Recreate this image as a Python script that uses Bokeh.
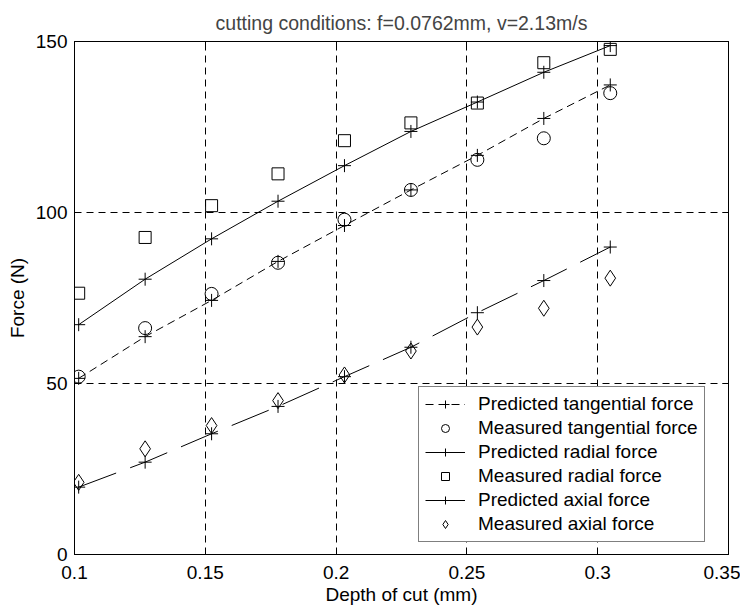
from bokeh.plotting import figure
from bokeh.models import (Range1d, LinearAxis, FixedTicker, NumeralTickFormatter,
                          CustomJSTickFormatter, Legend, LegendItem, Title)
from bokeh.embed import file_html
from bokeh.resources import INLINE

# ---- data ----
depth = [0.1016, 0.127, 0.1524, 0.1778, 0.2032, 0.2286, 0.254, 0.2794, 0.3048]
pred_tangential = [51.5, 63.7, 74.3, 85.7, 96.2, 106.6, 116.7, 127.5, 137.3]
meas_tangential = [52.0, 66.2, 76.2, 85.3, 97.9, 106.6, 115.4, 121.7, 134.9]
pred_radial = [67.2, 80.5, 92.3, 103.3, 113.7, 123.7, 132.3, 141.0, 148.8]
meas_radial = [76.4, 92.7, 102.0, 111.3, 121.0, 126.2, 132.0, 143.8, 147.7]
pred_axial = [19.7, 27.0, 35.3, 43.3, 52.0, 60.6, 70.7, 80.1, 89.9]
meas_axial = [21.1, 30.9, 37.7, 45.0, 52.5, 59.5, 66.5, 72.0, 80.8]

x_ticks = [0.1, 0.15, 0.2, 0.25, 0.3, 0.35]
y_ticks = [0, 50, 100, 150]
x_grid = [0.15, 0.2, 0.25, 0.3]
y_grid = [50, 100]

title_text = "cutting conditions: f=0.0762mm, v=2.13m/s"
x_label = "Depth of cut (mm)"
y_label = "Force (N)"

FONT = "Liberation Sans"
FS = "19px"

p = figure(frame_width=654, frame_height=513,
           x_range=Range1d(0.1, 0.35), y_range=Range1d(0, 150),
           output_backend="svg", toolbar_location=None, title=None,
           min_border_left=74, min_border_right=12,
           min_border_top=41, min_border_bottom=56,
           x_axis_label=x_label, y_axis_label=y_label,
           background_fill_color="white", border_fill_color="white",
           outline_line_color="black")

def style_axis(ax, show_labels=True):
    ax.major_tick_in = 6
    ax.major_tick_out = 0
    ax.minor_tick_in = 0
    ax.minor_tick_out = 0
    ax.axis_line_color = "black"
    ax.major_tick_line_color = "black"
    ax.major_label_text_font = FONT
    ax.major_label_text_font_size = FS
    ax.major_label_text_color = "black"
    ax.axis_label_text_font = FONT
    ax.axis_label_text_font_size = FS
    ax.axis_label_text_font_style = "normal"
    ax.axis_label_text_color = "black"
    if not show_labels:
        ax.formatter = CustomJSTickFormatter(code="return ''")
        ax.major_label_standoff = 0

xa = p.xaxis[0]
xa.ticker = FixedTicker(ticks=x_ticks)
xa.formatter = NumeralTickFormatter(format="0.[00]")
style_axis(xa)
xa.major_label_standoff = 11
xa.axis_label_standoff = 2

ya = p.yaxis[0]
ya.ticker = FixedTicker(ticks=y_ticks)
style_axis(ya)
ya.major_label_standoff = 7
ya.axis_label_standoff = 5

top = LinearAxis(ticker=FixedTicker(ticks=x_ticks))
style_axis(top, False)
p.add_layout(top, "above")

right = LinearAxis(ticker=FixedTicker(ticks=y_ticks))
style_axis(right, False)
p.add_layout(right, "right")

title = Title(text=title_text, align="center", text_font=FONT,
              text_font_size="19.5px", text_font_style="normal", standoff=16)
p.add_layout(title, "above")

p.xgrid.ticker = FixedTicker(ticks=x_grid)
p.ygrid.ticker = FixedTicker(ticks=y_grid)
for g in (p.xgrid[0], p.ygrid[0]):
    g.grid_line_color = "black"
    g.grid_line_dash = "7 5"
    g.grid_line_width = 1

K = "black"
l_tan = p.line(depth, pred_tangential, line_color=K, line_width=1, line_dash="8 5")
c_tan = p.scatter(depth, pred_tangential, marker="cross", size=13, line_color=K)
m_tan = p.scatter(depth, meas_tangential, marker="circle", size=13, line_color=K,
                  fill_color=None)
l_rad = p.line(depth, pred_radial, line_color=K, line_width=1)
c_rad = p.scatter(depth, pred_radial, marker="cross", size=13, line_color=K)
m_rad = p.scatter(depth, meas_radial, marker="square", size=12, line_color=K,
                  fill_color=None)
l_ax = p.line(depth, pred_axial, line_color=K, line_width=1, line_dash="40 15")
c_ax = p.scatter(depth, pred_axial, marker="cross", size=13, line_color=K)
m_ax = p.scatter(depth, meas_axial, marker="diamond", size=16, line_color=K,
                 fill_color=None)

legend = Legend(items=[
    LegendItem(label="Predicted tangential force", renderers=[l_tan, c_tan]),
    LegendItem(label="Measured tangential force", renderers=[m_tan]),
    LegendItem(label="Predicted radial force", renderers=[l_rad, c_rad]),
    LegendItem(label="Measured radial force", renderers=[m_rad]),
    LegendItem(label="Predicted axial force", renderers=[l_ax, c_ax]),
    LegendItem(label="Measured axial force", renderers=[m_ax]),
], location=(344, 12))
legend.border_line_color = "black"
legend.border_line_width = 1
legend.background_fill_color = "white"
legend.background_fill_alpha = 1
legend.label_text_font = FONT
legend.label_text_font_size = FS
legend.label_text_color = "black"
legend.glyph_width = 40
legend.glyph_height = 20
legend.label_height = 20
legend.spacing = 2
legend.padding = 6
legend.label_standoff = 13
legend.margin = 0
p.add_layout(legend, "center")

open("out.html", "w").write(file_html(p, INLINE))
